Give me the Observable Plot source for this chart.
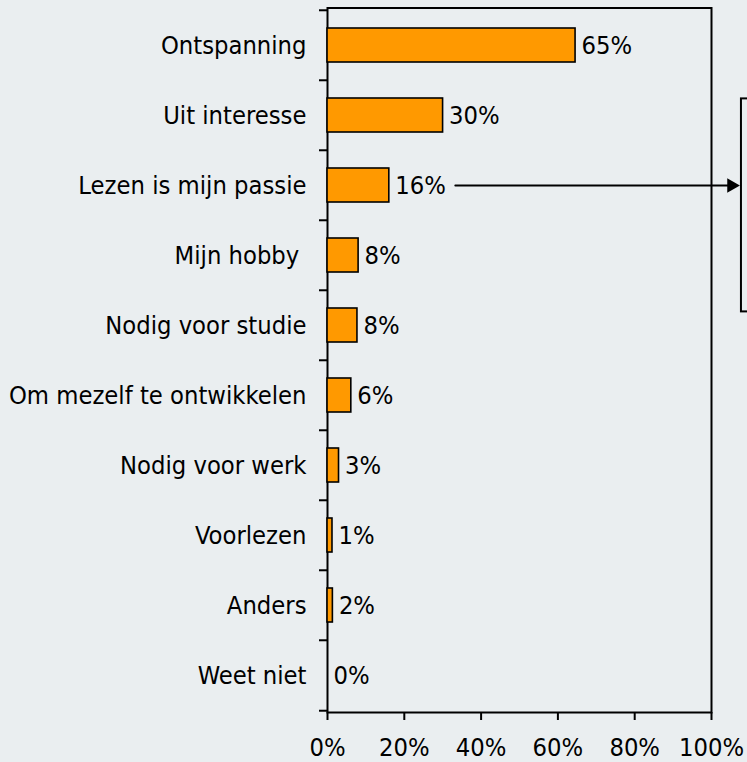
<!DOCTYPE html>
<html>
<head>
<meta charset="utf-8">
<script src="https://cdn.jsdelivr.net/npm/d3@7"></script>
<script src="https://cdn.jsdelivr.net/npm/@observablehq/plot@0.6"></script>
<style>
  html, body { margin: 0; padding: 0; background: #eaeef0; }
  #chart svg { display: block; }
</style>
</head>
<body>
<div id="chart"></div>
<script>
const categories = ["Ontspanning", "Uit interesse", "Lezen is mijn passie", "Mijn hobby\u00a0", "Nodig voor studie", "Om mezelf te ontwikkelen", "Nodig voor werk", "Voorlezen", "Anders", "Weet niet"];
const values = [64.6, 30.1, 16.1, 8.1, 7.8, 6.2, 3.0, 1.3, 1.4, 0];
const valueLabels = ["65%", "30%", "16%", "8%", "8%", "6%", "3%", "1%", "2%", "0%"];
const xTicks = [0, 20, 40, 60, 80, 100];
const calloutCategory = "Lezen is mijn passie";
const calloutBox = {x1: 107.8, x2: 130};

const data = categories.map((c, i) => ({category: c, value: values[i], label: valueLabels[i]}));
const callout = data.filter(d => d.category === calloutCategory);

const W = 747, H = 762;
const mTop = 7.5, mBottom = 50, mLeft = 327, mRight = 36;
const step = (H - mTop - mBottom) / categories.length;
const pad = 0.51;
const FS = 25.3;
const font = "'DejaVu Sans Condensed', 'DejaVu Sans', sans-serif";

const chart = Plot.plot({
  width: W,
  height: H,
  marginTop: mTop,
  marginBottom: mBottom,
  marginLeft: mLeft,
  marginRight: mRight,
  style: {background: "#eaeef0", fontFamily: font, fontSize: FS + "px", color: "#000"},
  x: {domain: [0, 100], ticks: xTicks, tickFormat: d => d + "%"},
  y: {domain: categories, paddingInner: pad, paddingOuter: pad / 2},
  marks: [
    Plot.frame({stroke: "#000", strokeWidth: 2}),
    Plot.barX(data, {y: "category", x: "value", fill: "#ff9900", stroke: "#000", strokeWidth: 1.6}),
    Plot.text(data, {y: "category", x: "value", text: "label", textAnchor: "start", dx: 6, fontSize: FS, fill: "#000"}),
    Plot.axisY({tickSize: 0, tickPadding: 21, fontSize: FS, label: null}),
    Plot.axisY({tickSize: 8, strokeWidth: 2, tickFormat: () => "", dy: -step / 2, label: null}),
    Plot.axisY({ticks: [categories[categories.length - 1]], tickSize: 8, strokeWidth: 2, tickFormat: () => "", dy: step / 2, label: null}),
    Plot.axisX({ticks: xTicks, tickSize: 8, strokeWidth: 2, tickPadding: 18, fontSize: FS, label: null, tickFormat: d => d + "%"}),
    Plot.arrow(callout, {y: "category", x1: "value", x2: () => calloutBox.x1, insetStart: 66, insetEnd: 10, headLength: 0, stroke: "#000", strokeWidth: 2}),
    Plot.dot(callout, {y: "category", x: () => calloutBox.x1, symbol: "triangle2", rotate: 90, r: 7, dx: -10, fill: "#000", stroke: "none"}),
    Plot.barX(callout, {y: "category", x1: () => calloutBox.x1, x2: () => calloutBox.x2, fill: "none", stroke: "#000", strokeWidth: 2, insetTop: -69.6, insetBottom: -109.4})
  ]
});
document.getElementById("chart").appendChild(chart);
</script>
</body>
</html>
